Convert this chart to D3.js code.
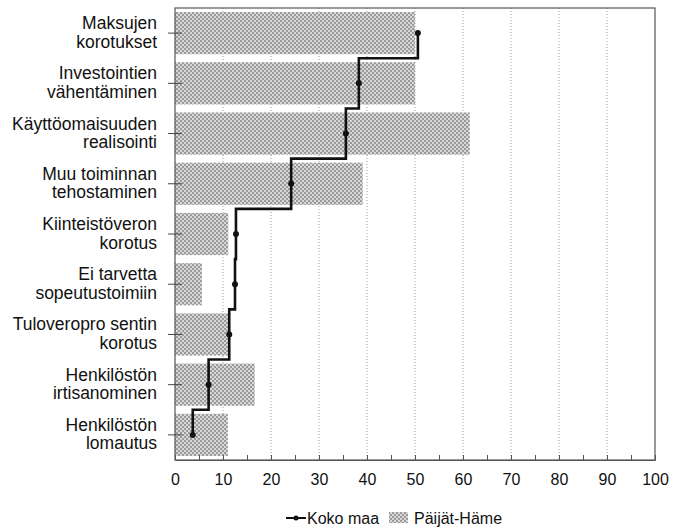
<!DOCTYPE html>
<html>
<head>
<meta charset="utf-8">
<script src="https://cdn.jsdelivr.net/npm/d3@7"></script>
<style>
html,body{margin:0;padding:0;background:#fff;}
svg{display:block;font-family:"Liberation Sans",Arial,Helvetica,sans-serif;}
</style>
</head>
<body>
<svg id="chart" width="683" height="531"></svg>
<script>
const categories = [
  ["Maksujen","korotukset"],
  ["Investointien","vähentäminen"],
  ["Käyttöomaisuuden","realisointi"],
  ["Muu toiminnan","tehostaminen"],
  ["Kiinteistöveron","korotus"],
  ["Ei tarvetta","sopeutustoimiin"],
  ["Tuloveropro sentin","korotus"],
  ["Henkilöstön","irtisanominen"],
  ["Henkilöstön","lomautus"]
];
const paijatHame = [50.0, 50.0, 61.4, 39.1, 11.1, 5.6, 11.3, 16.6, 11.0];
const kokoMaa    = [50.6, 38.3, 35.6, 24.2, 12.7, 12.5, 11.3, 7.0, 3.7];
const xTicks = [0,10,20,30,40,50,60,70,80,90,100];
const seriesNames = ["Koko maa", "Päijät-Häme"];

const svg = d3.select("#chart");
const m = {left:175, right:28, top:8, bottom:71};
const W = 683, H = 531;
const x = d3.scaleLinear().domain([0,100]).range([m.left, W - m.right]);
const ids = categories.map((d,i)=>i);
const y = d3.scaleBand().domain(ids).range([m.top, H - m.bottom]).paddingInner(0.16).paddingOuter(0.08);

// pattern
const defs = svg.append("defs");
const pat = defs.append("pattern").attr("id","dots").attr("patternUnits","userSpaceOnUse")
  .attr("width",4).attr("height",4);
pat.append("rect").attr("width",4).attr("height",4).attr("fill","#d8d8d8");
pat.append("rect").attr("x",0).attr("y",0).attr("width",2).attr("height",2).attr("fill","#9a9a9a");
pat.append("rect").attr("x",2).attr("y",2).attr("width",2).attr("height",2).attr("fill","#9a9a9a");

// grid
svg.append("g").selectAll("line").data(xTicks.filter(t=>t>0 && t<100)).join("line")
  .attr("x1",d=>x(d)).attr("x2",d=>x(d))
  .attr("y1",m.top).attr("y2",H-m.bottom)
  .attr("stroke","#9a9a9a").attr("stroke-width",1).attr("stroke-dasharray","1,2");

// bars
svg.append("g").selectAll("rect").data(paijatHame).join("rect")
  .attr("x",x(0)).attr("y",(d,i)=>y(i))
  .attr("width",d=>x(d)-x(0)).attr("height",y.bandwidth())
  .attr("fill","url(#dots)");

// frame
svg.append("rect").attr("x",x(0)).attr("y",m.top)
  .attr("width",x(100)-x(0)).attr("height",H-m.bottom-m.top)
  .attr("fill","none").attr("stroke","#555").attr("stroke-width",1.2);

// x axis
const minor = d3.range(0,101,5);
const xAxis = d3.axisBottom(x).tickValues(minor).tickSizeInner(-5).tickSizeOuter(0).tickPadding(14)
  .tickFormat(d => xTicks.includes(d) ? d : "");
const gx = svg.append("g").attr("transform",`translate(0,${H-m.bottom})`).call(xAxis);
gx.select(".domain").attr("stroke","#555");
gx.selectAll(".tick line").attr("stroke","#555");
gx.selectAll(".tick text").attr("font-size","16px").attr("fill","#111").attr("font-family","Liberation Sans, Arial, sans-serif");

// y axis ticks
const yAxis = d3.axisLeft(y).tickSizeInner(14).tickSizeOuter(0).tickFormat("");
const gy = svg.append("g").attr("transform",`translate(${x(0)+7},0)`).call(yAxis);
gy.select(".domain").remove();
gy.selectAll(".tick line").attr("stroke","#444");

// category labels
const lab = svg.append("g").attr("font-size","17.5px").attr("fill","#111").attr("text-anchor","end");
categories.forEach((c,i)=>{
  const cy = y(i) + y.bandwidth()/2;
  const t = lab.append("text").attr("x",157).attr("y",cy-4);
  t.append("tspan").attr("x",157).text(c[0]);
  t.append("tspan").attr("x",157).attr("dy",18.5).text(c[1]);
});

// step line
const pts = [];
kokoMaa.forEach((v,i)=>{
  const cy = y(i) + y.bandwidth()/2;
  pts.push([x(v), cy]);
  if(i < kokoMaa.length-1){
    const ny = y(i+1) + y.bandwidth()/2;
    const b = (cy+ny)/2;
    pts.push([x(v), b]);
    pts.push([x(kokoMaa[i+1]), b]);
  }
});
svg.append("path").attr("d", d3.line()(pts))
  .attr("fill","none").attr("stroke","#111").attr("stroke-width",2.6).attr("stroke-linejoin","miter");
svg.append("g").selectAll("circle").data(kokoMaa).join("circle")
  .attr("cx",d=>x(d)).attr("cy",(d,i)=>y(i)+y.bandwidth()/2).attr("r",3).attr("fill","#111");

// legend
const lg = svg.append("g").attr("font-size","16px").attr("fill","#111");
lg.append("line").attr("x1",286).attr("x2",306).attr("y1",518).attr("y2",518).attr("stroke","#111").attr("stroke-width",2);
lg.append("circle").attr("cx",296).attr("cy",518).attr("r",2.5).attr("fill","#111");
lg.append("text").attr("x",307).attr("y",524).text(seriesNames[0]);
lg.append("rect").attr("x",389).attr("y",512).attr("width",19).attr("height",11).attr("fill","url(#dots)");
lg.append("text").attr("x",414).attr("y",524).text(seriesNames[1]);
</script>
</body>
</html>
